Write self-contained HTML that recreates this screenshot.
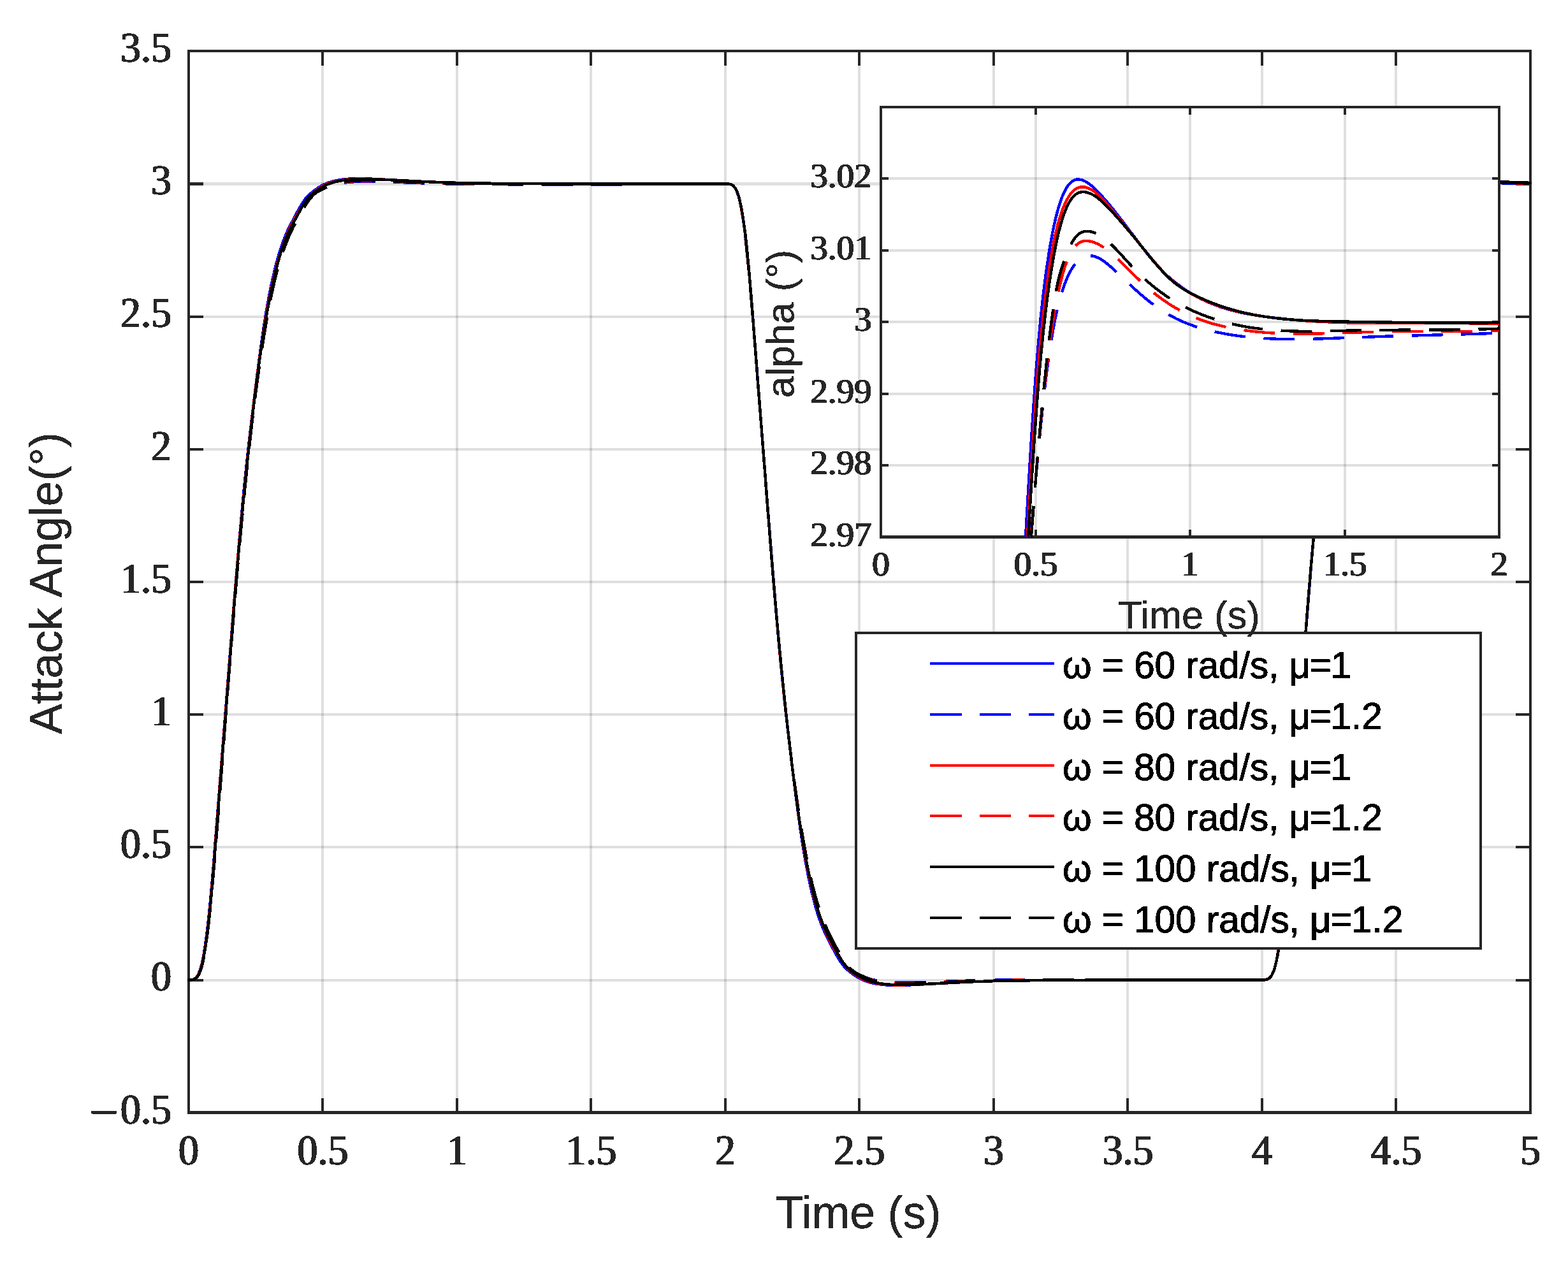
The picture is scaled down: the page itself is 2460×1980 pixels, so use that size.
<!DOCTYPE html>
<html lang="en"><head><meta charset="utf-8">
<style>
html,body{margin:0;padding:0;background:#fff;}
body{width:2460px;height:1980px;overflow:hidden;}
svg{display:block;}
.tk{font-family:"Liberation Serif","DejaVu Serif",serif;fill:#262626;}
.lb{font-family:"Liberation Sans","DejaVu Sans",sans-serif;fill:#262626;stroke:#262626;stroke-width:0.4;}
.lg{font-family:"Liberation Sans","DejaVu Sans",sans-serif;fill:#000;}
.a{fill:#262626;shape-rendering:crispEdges;}
.g{fill:#262626;fill-opacity:0.15;shape-rendering:crispEdges;}
.cv{fill:none;stroke-width:4.4;stroke-linejoin:round;stroke-linecap:butt;shape-rendering:crispEdges;}
</style></head><body>
<svg width="2460" height="1980" viewBox="0 0 2460 1980">
<rect x="0" y="0" width="2460" height="1980" fill="#ffffff"/>
<defs>
<filter id="fb" filterUnits="userSpaceOnUse" x="0" y="0" width="2460" height="1980" color-interpolation-filters="sRGB"><feOffset in="SourceGraphic" dx="-1" dy="0" result="a"/><feOffset in="SourceGraphic" dx="1" dy="0" result="b"/><feMerge><feMergeNode in="a"/><feMergeNode in="SourceGraphic"/><feMergeNode in="b"/></feMerge><feComponentTransfer><feFuncA type="discrete" tableValues="0 1"/></feComponentTransfer></filter>
<filter id="ft" filterUnits="userSpaceOnUse" x="0" y="0" width="2460" height="1980" color-interpolation-filters="sRGB"><feComponentTransfer><feFuncA type="discrete" tableValues="0 1"/></feComponentTransfer></filter>
<clipPath id="cm"><rect x="294" y="80.3" width="2109" height="1665.4"/></clipPath>
<clipPath id="ci"><rect x="1382" y="168" width="970" height="675.5"/></clipPath>
</defs>
<g id="main-grid">
<rect class="g" x="504" y="80.3" width="4" height="1665.4"/>
<rect class="g" x="715" y="80.3" width="4" height="1665.4"/>
<rect class="g" x="925" y="80.3" width="4" height="1665.4"/>
<rect class="g" x="1136" y="80.3" width="4" height="1665.4"/>
<rect class="g" x="1346" y="80.3" width="4" height="1665.4"/>
<rect class="g" x="1557" y="80.3" width="4" height="1665.4"/>
<rect class="g" x="1767" y="80.3" width="4" height="1665.4"/>
<rect class="g" x="1978" y="80.3" width="4" height="1665.4"/>
<rect class="g" x="2188" y="80.3" width="4" height="1665.4"/>
<rect class="g" x="296" y="1536" width="2105" height="4"/>
<rect class="g" x="296" y="1327" width="2105" height="4"/>
<rect class="g" x="296" y="1119" width="2105" height="4"/>
<rect class="g" x="296" y="911" width="2105" height="4"/>
<rect class="g" x="296" y="703" width="2105" height="4"/>
<rect class="g" x="296" y="495" width="2105" height="4"/>
<rect class="g" x="296" y="286" width="2105" height="5"/>
</g>
<g id="main-box">
<rect class="a" x="504" y="1722.7" width="4" height="23"/>
<rect class="a" x="504" y="80.3" width="4" height="23"/>
<rect class="a" x="715" y="1722.7" width="4" height="23"/>
<rect class="a" x="715" y="80.3" width="4" height="23"/>
<rect class="a" x="925" y="1722.7" width="4" height="23"/>
<rect class="a" x="925" y="80.3" width="4" height="23"/>
<rect class="a" x="1136" y="1722.7" width="4" height="23"/>
<rect class="a" x="1136" y="80.3" width="4" height="23"/>
<rect class="a" x="1346" y="1722.7" width="4" height="23"/>
<rect class="a" x="1346" y="80.3" width="4" height="23"/>
<rect class="a" x="1557" y="1722.7" width="4" height="23"/>
<rect class="a" x="1557" y="80.3" width="4" height="23"/>
<rect class="a" x="1767" y="1722.7" width="4" height="23"/>
<rect class="a" x="1767" y="80.3" width="4" height="23"/>
<rect class="a" x="1978" y="1722.7" width="4" height="23"/>
<rect class="a" x="1978" y="80.3" width="4" height="23"/>
<rect class="a" x="2188" y="1722.7" width="4" height="23"/>
<rect class="a" x="2188" y="80.3" width="4" height="23"/>
<rect class="a" x="296" y="1536" width="23" height="4"/>
<rect class="a" x="2378" y="1536" width="23" height="4"/>
<rect class="a" x="296" y="1327" width="23" height="4"/>
<rect class="a" x="2378" y="1327" width="23" height="4"/>
<rect class="a" x="296" y="1119" width="23" height="4"/>
<rect class="a" x="2378" y="1119" width="23" height="4"/>
<rect class="a" x="296" y="911" width="23" height="4"/>
<rect class="a" x="2378" y="911" width="23" height="4"/>
<rect class="a" x="296" y="703" width="23" height="4"/>
<rect class="a" x="2378" y="703" width="23" height="4"/>
<rect class="a" x="296" y="495" width="23" height="4"/>
<rect class="a" x="2378" y="495" width="23" height="4"/>
<rect class="a" x="296" y="286" width="23" height="5"/>
<rect class="a" x="2378" y="286" width="23" height="5"/>
<rect class="a" x="294" y="78" width="4" height="1670"/>
<rect class="a" x="2399" y="78" width="4" height="1670"/>
<rect class="a" x="294" y="78" width="2109" height="4"/>
<rect class="a" x="294" y="1743" width="2109" height="5"/>
</g>
<g id="main-curves" clip-path="url(#cm)">
<path class="cv" stroke="#0000ff" style="stroke-linecap:square" d="M296.0 1537.5L299.8 1537.4L302.3 1537.0L304.4 1536.2L306.5 1534.8L308.6 1532.5L310.3 1529.9L312.0 1526.5L313.7 1522.3L315.4 1516.9L317.1 1510.3L318.3 1504.4L320.0 1495.3L322.9 1476.2L325.9 1452.8L328.0 1433.7L330.1 1412.5L334.7 1359.9L366.3 957.1L374.3 860.9L381.0 786.1L384.8 747.3L388.2 715.3L391.6 685.6L396.2 647.0L402.9 592.7L408.0 553.8L412.6 520.8L416.8 493.7L420.2 474.5L424.0 454.8L427.8 436.9L432.0 419.1L435.8 404.9L440.0 391.0L444.2 378.9L448.4 368.5L451.3 361.8L454.7 354.8L465.2 334.6L471.6 323.3L474.5 318.5L477.0 314.8L479.1 312.0L481.7 309.0L484.2 306.4L487.1 303.7L490.5 301.0L495.1 297.5L499.3 294.6L503.1 292.2L508.6 289.3L514.5 286.8L520.8 284.8L528.0 283.1L536.4 281.7L544.8 280.8L553.7 280.3L563.8 280.2L576.0 280.4L590.7 281.0L656.4 284.5L687.5 285.9L717.0 286.9L751.9 287.6L807.5 288.1L886.2 288.4L1141.8 288.6L1145.2 288.9L1146.8 289.3L1148.1 289.9L1149.4 290.6L1150.6 291.6L1152.7 294.0L1154.0 295.9L1155.3 298.3L1156.5 301.2L1157.8 304.6L1159.9 311.7L1162.0 320.9L1164.5 334.8L1166.6 348.8L1168.7 364.9L1171.3 386.9L1175.5 430.0L1180.1 484.8L1203.3 782.0L1213.4 908.2L1220.5 992.1L1226.8 1060.1L1231.0 1101.4L1235.7 1142.8L1244.5 1215.9L1250.8 1265.9L1255.5 1300.0L1259.7 1328.0L1263.9 1352.6L1268.1 1374.5L1273.1 1397.8L1278.2 1417.8L1280.7 1426.7L1283.2 1434.9L1285.8 1442.4L1288.7 1450.3L1292.5 1459.5L1296.3 1467.7L1300.5 1476.2L1307.7 1489.9L1312.3 1498.4L1316.1 1504.9L1319.5 1510.1L1322.8 1514.6L1326.2 1518.4L1329.6 1521.6L1333.8 1525.1L1339.2 1529.1L1344.3 1532.5L1348.5 1535.0L1353.1 1537.3L1357.8 1539.2L1362.8 1540.9L1367.9 1542.2L1373.3 1543.3L1379.7 1544.3L1386.0 1545.1L1392.3 1545.5L1399.4 1545.8L1407.0 1545.9L1419.2 1545.7L1434.0 1545.1L1499.6 1541.6L1530.8 1540.1L1559.8 1539.2L1594.8 1538.5L1650.4 1538.0L1729.5 1537.6L1982.5 1537.5L1985.9 1537.2L1987.6 1536.8L1988.8 1536.4L1990.1 1535.7L1991.4 1534.8L1993.5 1532.6L1995.2 1530.1L1996.4 1527.7L1998.1 1523.8L1999.4 1520.2L2000.6 1516.0L2001.9 1510.9L2004.4 1498.6L2006.9 1483.1L2009.5 1464.5L2012.0 1443.0L2014.5 1418.5L2017.9 1381.7L2021.7 1336.0L2046.1 1022.6L2057.0 887.6L2062.1 829.3L2067.1 774.6L2071.4 732.6L2076.0 690.5L2084.0 623.8L2091.1 566.6L2096.6 526.1L2101.2 495.5L2103.8 480.5L2106.7 464.3L2109.7 449.4L2112.6 435.7L2115.6 423.0L2118.5 411.4L2121.5 400.8L2124.8 389.9L2127.8 381.3L2131.1 372.6L2134.5 364.7L2138.3 356.6L2143.8 345.8L2152.6 329.2L2157.2 321.2L2161.5 314.8L2164.8 310.4L2168.2 306.8L2172.0 303.3L2176.2 300.0L2182.5 295.5L2188.0 292.0L2193.0 289.3L2198.5 287.0L2203.1 285.4L2208.2 284.0L2213.7 282.9L2220.0 281.8L2226.3 281.1L2232.6 280.6L2239.3 280.3L2246.5 280.1L2257.4 280.3L2271.8 280.8L2354.7 285.2L2377.8 286.1L2401.0 286.9"/>
<path class="cv" stroke="#0000ff" stroke-dasharray="49 28.5" stroke-dashoffset="0" d="M296.0 1537.5L299.8 1537.5L302.7 1537.1L304.8 1536.3L306.9 1535.1L309.1 1533.1L310.7 1530.7L312.4 1527.6L314.1 1523.6L315.8 1518.7L317.1 1514.1L318.3 1508.7L320.0 1500.1L322.9 1481.1L325.9 1457.9L328.4 1435.1L331.4 1405.5L334.3 1373.3L337.7 1334.0L344.8 1245.0L359.6 1052.9L367.1 956.8L374.7 865.8L381.5 791.2L385.3 752.5L388.6 720.4L392.0 690.5L395.8 659.1L400.8 619.5L405.9 582.1L410.5 550.0L415.1 520.1L419.4 495.1L423.1 474.6L426.9 456.1L430.7 439.6L434.9 423.2L439.1 408.6L444.2 392.9L449.2 378.6L454.7 364.9L457.7 358.4L460.2 353.4L464.8 345.3L474.9 329.2L482.5 316.1L485.5 311.6L488.8 307.6L492.2 304.5L496.4 301.6L499.3 300.0L503.6 298.0L514.1 293.4L521.2 290.7L527.5 289.0L537.2 287.2L547.3 285.9L558.3 285.0L570.9 284.7L584.0 284.7L599.5 285.0L656.0 287.2L686.7 288.1L722.5 288.7L765.4 289.2L857.2 289.5L1141.4 289.1L1145.2 289.4L1146.8 289.9L1148.1 290.4L1149.4 291.1L1150.6 292.1L1152.7 294.5L1154.4 297.2L1155.7 299.7L1156.9 302.8L1158.6 307.7L1159.9 312.1L1161.2 317.5L1163.3 328.4L1165.8 344.8L1168.3 364.3L1170.8 386.7L1173.8 415.7L1178.4 466.7L1184.3 537.8L1204.9 805.1L1214.2 920.2L1218.8 974.3L1223.0 1021.0L1227.3 1064.8L1231.5 1105.3L1235.7 1142.4L1240.3 1180.1L1245.8 1221.9L1251.2 1261.1L1256.3 1294.6L1260.9 1322.7L1265.6 1348.2L1269.8 1368.9L1272.3 1380.2L1275.2 1392.3L1278.2 1403.5L1281.6 1415.3L1284.9 1426.1L1288.7 1437.5L1292.5 1448.0L1296.3 1457.6L1300.9 1468.0L1303.5 1473.0L1306.0 1477.6L1317.8 1496.6L1326.2 1511.1L1328.7 1514.8L1331.2 1517.9L1333.8 1520.5L1336.3 1522.6L1339.2 1524.6L1342.2 1526.3L1348.9 1529.5L1356.5 1532.7L1362.8 1535.2L1367.4 1536.6L1373.3 1537.9L1379.2 1539.0L1385.5 1540.0L1391.9 1540.7L1398.6 1541.2L1405.8 1541.5L1422.6 1541.7L1446.2 1541.2L1497.1 1539.2L1526.2 1538.4L1561.1 1537.7L1607.4 1537.1L1700.5 1536.8L1982.5 1537.0L1985.9 1536.8L1987.6 1536.4L1988.8 1536.0L1990.1 1535.3L1991.4 1534.4L1993.5 1532.2L1995.2 1529.7L1996.4 1527.3L1997.7 1524.5L1999.4 1519.8L2000.6 1515.6L2001.9 1510.5L2004.0 1500.1L2006.5 1484.3L2009.0 1465.3L2011.6 1443.4L2014.5 1414.8L2019.2 1364.3L2025.0 1293.6L2046.9 1010.3L2057.0 886.0L2062.1 828.2L2067.1 774.2L2071.8 728.7L2076.4 687.3L2082.7 636.2L2089.9 582.7L2096.2 539.6L2102.5 501.0L2105.5 484.6L2108.4 469.3L2110.9 457.2L2113.9 444.1L2116.8 432.1L2120.2 419.6L2123.6 408.0L2126.9 397.4L2131.1 385.1L2135.3 373.7L2139.1 364.5L2142.9 356.4L2145.5 351.5L2148.4 346.4L2158.5 330.2L2166.1 317.1L2169.0 312.4L2171.6 309.1L2174.1 306.4L2176.6 304.1L2179.6 302.0L2182.5 300.3L2186.3 298.4L2193.0 295.3L2199.3 292.7L2204.4 290.8L2208.6 289.5L2214.9 288.1L2221.7 286.8L2228.4 285.9L2235.5 285.2L2243.1 284.7L2251.1 284.4L2263.8 284.3L2280.2 284.6L2351.3 287.2L2401.0 288.4"/>
<path class="cv" stroke="#ff0000" style="stroke-linecap:square" d="M296.0 1537.5L299.8 1537.4L302.3 1537.1L304.4 1536.3L306.5 1535.0L308.6 1532.8L310.3 1530.3L312.0 1527.1L313.7 1523.0L315.4 1517.8L317.1 1511.3L320.0 1497.2L321.7 1487.4L323.4 1476.3L326.3 1453.4L330.1 1417.4L334.3 1369.2L344.8 1232.7L354.5 1111.3L367.6 942.8L373.0 877.0L378.9 812.1L383.6 764.8L388.6 716.2L393.7 670.4L398.3 630.8L402.9 593.7L407.6 559.3L412.2 527.7L416.4 501.5L420.2 480.1L424.4 458.5L428.6 439.2L432.8 422.0L437.0 406.6L441.7 391.5L446.3 378.2L451.3 365.5L454.3 358.9L457.2 352.7L463.6 340.8L467.3 334.4L471.6 327.7L475.8 321.4L480.0 315.5L485.9 308.1L488.8 304.9L491.8 302.1L496.8 298.1L505.7 292.3L511.1 289.4L516.6 287.2L523.3 285.2L531.3 283.4L539.3 282.1L548.2 281.2L557.4 280.7L567.5 280.6L581.4 280.9L600.4 281.6L662.7 284.8L688.0 285.9L721.2 286.9L758.3 287.6L808.8 288.1L887.9 288.4L1141.4 288.6L1145.2 288.9L1146.8 289.3L1148.1 289.9L1149.4 290.6L1150.6 291.6L1152.7 294.0L1154.0 295.9L1155.3 298.3L1156.5 301.2L1157.8 304.6L1159.9 311.7L1162.4 322.8L1164.9 336.6L1167.0 350.5L1169.6 369.9L1171.7 388.6L1175.0 423.4L1178.8 468.4L1188.5 594.4L1198.2 716.0L1208.3 847.0L1212.9 905.1L1218.8 973.8L1225.1 1040.9L1230.6 1094.7L1236.5 1149.1L1242.0 1196.3L1247.5 1240.0L1252.9 1279.9L1258.0 1313.2L1263.0 1342.9L1268.1 1369.0L1273.6 1393.6L1276.5 1405.5L1279.5 1416.4L1282.4 1426.4L1285.8 1437.0L1289.1 1446.6L1292.5 1455.4L1295.9 1463.4L1299.7 1471.7L1303.5 1479.1L1307.2 1486.0L1311.9 1493.7L1317.3 1502.2L1322.0 1508.9L1326.6 1514.9L1330.0 1518.9L1332.9 1522.0L1335.9 1524.7L1338.8 1527.1L1345.6 1531.7L1350.2 1534.5L1354.4 1536.7L1359.0 1538.6L1364.1 1540.2L1369.6 1541.6L1375.9 1542.9L1382.2 1543.9L1388.9 1544.6L1395.7 1545.1L1402.8 1545.4L1410.8 1545.5L1424.7 1545.2L1443.6 1544.5L1506.0 1541.2L1531.2 1540.1L1564.1 1539.1L1601.1 1538.4L1651.6 1537.9L1730.8 1537.6L1982.5 1537.5L1985.9 1537.2L1987.6 1536.8L1988.8 1536.4L1990.1 1535.7L1991.4 1534.8L1993.5 1532.6L1995.2 1530.1L1996.4 1527.8L1998.1 1523.8L1999.4 1520.2L2001.9 1510.9L2004.4 1499.0L2006.9 1484.1L2009.5 1466.2L2012.0 1445.2L2014.1 1425.1L2017.0 1393.1L2020.4 1352.4L2029.3 1237.0L2039.4 1110.0L2050.3 968.3L2057.0 885.8L2062.5 824.7L2068.0 768.2L2074.3 707.6L2080.6 651.1L2086.5 602.4L2092.0 561.0L2097.5 523.5L2102.9 490.2L2108.4 461.1L2113.9 436.0L2116.8 423.9L2119.8 412.7L2122.7 402.4L2126.1 391.6L2129.9 380.6L2133.7 370.6L2137.5 361.7L2141.7 352.7L2145.9 344.5L2150.5 336.4L2156.0 327.7L2161.9 318.9L2166.1 313.2L2169.9 308.6L2173.7 304.5L2177.4 301.0L2181.7 297.8L2189.7 292.5L2194.3 290.0L2199.3 287.8L2204.0 286.2L2209.4 284.7L2215.3 283.5L2221.7 282.4L2228.0 281.6L2234.7 281.1L2241.9 280.7L2249.4 280.6L2262.1 280.7L2279.8 281.3L2356.8 285.3L2377.8 286.1L2401.0 286.8"/>
<path class="cv" stroke="#ff0000" stroke-dasharray="49 28.5" stroke-dashoffset="0" d="M296.0 1537.5L299.8 1537.5L302.7 1537.1L304.8 1536.3L306.9 1535.1L309.1 1533.1L310.7 1530.7L312.4 1527.6L314.1 1523.6L315.8 1518.7L317.1 1514.1L318.3 1508.7L320.0 1500.1L322.9 1481.1L325.9 1457.9L328.4 1435.0L331.4 1405.4L334.3 1373.1L337.7 1333.9L344.8 1244.9L359.6 1053.0L367.1 957.0L374.7 866.0L381.5 791.4L385.3 752.6L388.6 720.4L392.0 690.3L395.8 658.7L400.4 622.4L405.0 588.2L409.7 556.2L414.3 526.4L418.5 501.4L422.3 480.6L426.1 461.5L429.9 444.2L433.7 428.6L437.9 412.9L442.1 399.0L446.3 386.7L449.2 378.9L452.2 371.7L455.1 365.1L458.5 358.2L463.6 348.9L474.5 330.2L482.1 316.3L485.0 311.7L488.0 308.1L491.3 305.0L495.1 302.5L504.8 297.4L513.7 293.3L521.2 290.4L529.2 288.0L537.7 286.2L546.9 285.0L557.4 284.1L569.7 283.8L581.9 283.8L597.0 284.2L664.0 286.7L690.5 287.6L726.7 288.3L767.1 288.8L851.3 289.2L1141.4 289.0L1145.2 289.3L1146.8 289.7L1148.1 290.3L1149.4 291.0L1150.6 292.0L1152.7 294.4L1154.4 297.0L1155.7 299.6L1158.2 306.2L1159.5 310.4L1160.7 315.5L1162.8 326.0L1165.4 341.8L1167.9 360.9L1170.4 382.8L1173.4 411.4L1178.0 461.9L1183.9 532.6L1205.4 810.2L1214.6 924.8L1219.3 978.7L1223.5 1025.2L1227.7 1068.8L1231.9 1109.1L1236.1 1146.1L1240.7 1183.6L1246.2 1225.0L1251.2 1260.6L1256.3 1293.5L1260.9 1321.3L1265.6 1346.6L1270.2 1369.4L1275.7 1393.1L1278.6 1404.5L1281.6 1415.1L1284.5 1424.8L1287.5 1433.8L1290.4 1442.1L1293.8 1450.7L1299.2 1463.1L1304.7 1473.8L1317.3 1495.4L1325.8 1510.8L1327.9 1514.1L1330.4 1517.3L1333.3 1520.3L1336.3 1522.5L1339.7 1524.6L1345.6 1527.7L1352.3 1531.0L1358.6 1533.8L1364.5 1536.0L1370.0 1537.6L1375.0 1538.9L1380.5 1540.0L1386.0 1540.9L1391.9 1541.5L1398.2 1542.0L1405.3 1542.4L1421.3 1542.6L1445.3 1542.0L1503.0 1539.7L1529.5 1538.8L1567.0 1538.0L1609.5 1537.4L1694.1 1537.1L1982.5 1537.1L1985.9 1536.9L1987.6 1536.5L1988.8 1536.1L1990.1 1535.4L1991.4 1534.5L1993.5 1532.3L1995.2 1529.8L1996.4 1527.4L1997.7 1524.6L1999.4 1519.9L2000.6 1515.7L2001.9 1510.6L2004.0 1500.2L2006.5 1484.3L2009.0 1465.3L2011.6 1443.4L2014.5 1414.7L2019.2 1364.2L2025.0 1293.5L2046.9 1010.5L2052.4 942.0L2057.5 881.4L2062.5 823.8L2067.6 770.1L2072.2 724.8L2076.8 683.6L2082.7 635.9L2089.5 585.9L2095.8 543.2L2102.1 504.8L2105.5 486.2L2108.4 470.9L2111.4 456.7L2114.3 443.5L2117.2 431.3L2120.6 418.4L2123.6 408.1L2126.9 397.3L2130.3 387.5L2134.1 377.5L2137.9 368.5L2141.7 360.4L2147.1 350.1L2158.5 330.6L2166.5 316.0L2169.0 312.0L2171.1 309.2L2173.2 306.9L2175.8 304.7L2178.3 303.0L2182.5 300.6L2189.7 296.9L2195.1 294.3L2200.6 292.0L2206.1 290.0L2211.6 288.3L2217.0 287.0L2222.9 285.8L2229.2 284.9L2236.0 284.3L2243.1 283.8L2251.5 283.5L2263.3 283.5L2277.6 283.8L2354.3 286.7L2401.0 287.9"/>
<path class="cv" stroke="#000000" style="stroke-linecap:square" d="M296.0 1537.5L299.8 1537.5L302.7 1537.0L304.8 1536.2L306.9 1534.8L309.1 1532.7L310.7 1530.2L312.4 1526.9L314.1 1522.7L315.4 1518.9L317.1 1512.7L318.7 1505.4L320.4 1496.7L322.1 1486.8L323.8 1475.6L326.7 1452.6L330.5 1416.5L334.7 1368.2L345.3 1231.7L354.9 1110.0L368.0 941.8L373.5 876.2L378.9 815.8L383.6 768.2L388.2 723.3L393.3 677.0L397.9 637.1L402.5 599.7L407.1 565.0L411.8 533.2L416.0 506.9L419.8 485.5L424.0 463.8L428.2 444.0L432.4 426.0L436.6 409.8L440.4 396.8L444.6 384.2L448.8 373.4L453.9 362.1L460.2 349.8L472.4 327.3L476.2 320.9L479.6 315.8L481.7 312.9L484.2 309.9L486.7 307.2L489.7 304.5L495.6 299.9L504.4 294.1L510.3 290.9L516.6 288.2L523.3 286.0L531.3 284.1L539.8 282.7L548.6 281.7L558.3 281.1L568.8 280.9L583.5 281.1L602.5 281.8L665.6 285.0L691.3 286.1L724.2 287.0L759.5 287.6L809.2 288.1L889.6 288.4L1141.4 288.5L1145.2 288.9L1146.8 289.3L1148.1 289.8L1149.4 290.6L1150.6 291.6L1152.7 293.9L1154.0 295.9L1155.3 298.2L1156.5 301.1L1157.8 304.5L1159.9 311.7L1162.4 322.7L1164.9 336.6L1167.0 350.4L1169.2 366.4L1171.3 384.6L1175.0 423.3L1178.8 468.3L1188.5 594.3L1197.8 710.7L1208.3 847.0L1212.9 905.0L1219.3 978.3L1225.6 1045.2L1231.0 1098.7L1236.9 1152.8L1242.4 1199.4L1247.9 1242.5L1252.9 1278.7L1258.0 1311.5L1263.0 1340.6L1268.5 1368.3L1274.0 1393.0L1279.5 1414.7L1282.0 1423.6L1284.9 1433.2L1287.5 1440.6L1290.4 1448.5L1293.3 1455.6L1296.7 1463.0L1300.1 1469.9L1304.7 1478.6L1313.1 1494.2L1317.8 1502.3L1322.0 1509.0L1325.8 1514.2L1329.1 1518.0L1332.5 1521.2L1336.3 1524.3L1340.9 1527.6L1346.4 1531.1L1351.4 1534.0L1356.1 1536.3L1361.1 1538.2L1366.2 1539.9L1372.1 1541.4L1378.4 1542.6L1384.7 1543.6L1391.4 1544.3L1398.2 1544.8L1405.3 1545.1L1413.3 1545.1L1428.1 1544.9L1446.6 1544.2L1508.5 1541.0L1533.7 1540.0L1567.0 1539.0L1602.4 1538.4L1652.0 1537.9L1732.0 1537.6L1982.5 1537.5L1985.9 1537.2L1987.6 1536.8L1988.8 1536.4L1990.1 1535.7L1991.4 1534.8L1993.5 1532.6L1995.2 1530.1L1996.4 1527.8L1998.1 1523.8L1999.4 1520.2L2001.9 1510.9L2004.4 1499.0L2006.9 1484.1L2009.5 1466.2L2012.0 1445.2L2014.1 1425.1L2017.0 1393.2L2020.4 1352.5L2029.7 1231.7L2039.4 1109.9L2050.3 968.3L2057.0 885.9L2062.5 824.7L2068.0 768.1L2074.3 707.5L2080.6 651.3L2086.1 606.3L2091.6 565.0L2097.0 527.7L2102.1 497.1L2105.0 480.9L2108.0 465.9L2111.4 449.8L2114.3 436.6L2117.7 422.6L2120.6 411.3L2123.6 400.9L2126.5 391.5L2129.5 383.0L2132.4 375.4L2135.8 367.5L2139.6 359.5L2144.6 349.7L2156.0 328.8L2160.6 320.9L2164.4 315.2L2167.3 311.3L2170.7 307.6L2174.1 304.4L2178.3 301.1L2184.6 296.7L2190.5 293.1L2195.6 290.5L2200.6 288.4L2205.7 286.6L2210.7 285.2L2216.6 283.9L2222.9 282.8L2229.2 282.0L2236.0 281.4L2243.1 281.0L2250.7 280.9L2264.2 281.0L2282.7 281.6L2358.5 285.4L2401.0 286.8"/>
<path class="cv" stroke="#000000" stroke-dasharray="49 28.5" stroke-dashoffset="0" d="M296.0 1537.5L299.8 1537.5L302.7 1537.1L305.3 1536.2L307.4 1534.9L309.5 1532.8L311.2 1530.3L312.8 1527.1L314.5 1523.0L316.2 1517.8L317.9 1511.4L319.6 1503.7L320.8 1497.1L323.8 1478.4L326.7 1455.1L328.8 1435.8L331.4 1410.3L336.8 1348.0L342.7 1274.1L358.3 1070.0L365.5 978.6L372.6 892.3L379.8 812.9L384.0 769.4L388.2 728.3L392.4 689.6L397.0 649.7L401.2 615.9L405.5 584.4L409.7 555.2L414.3 525.6L418.1 503.4L422.3 480.7L426.1 462.0L430.3 443.2L434.5 426.4L438.7 411.4L442.9 398.0L447.6 385.0L453.5 370.5L459.8 356.9L468.2 340.9L476.6 326.3L482.9 316.6L485.9 312.7L488.4 309.6L491.3 306.4L493.9 304.1L496.4 302.2L499.3 300.3L507.8 295.9L515.8 292.1L525.0 288.7L530.9 286.9L538.1 285.6L550.3 284.1L559.5 283.5L569.7 283.2L583.1 283.3L598.7 283.7L655.5 286.1L691.7 287.2L727.1 288.0L765.4 288.5L809.2 288.8L866.9 289.0L1141.4 288.9L1145.2 289.2L1146.8 289.6L1148.1 290.2L1149.4 290.9L1150.6 291.9L1152.7 294.3L1154.4 297.0L1155.7 299.5L1156.9 302.5L1158.2 306.1L1160.7 315.3L1163.3 327.4L1165.8 342.8L1167.9 358.4L1170.4 380.3L1172.9 405.0L1177.6 456.2L1183.5 527.7L1189.8 608.2L1205.4 811.4L1213.8 915.5L1218.4 968.8L1223.0 1019.1L1227.7 1066.3L1232.7 1114.5L1236.9 1152.0L1241.6 1190.5L1246.2 1226.3L1250.8 1259.3L1255.5 1289.7L1260.1 1317.4L1264.7 1342.6L1269.4 1365.3L1274.8 1389.0L1277.8 1400.5L1280.7 1411.0L1283.7 1420.7L1287.0 1431.0L1290.4 1440.3L1293.8 1448.9L1298.0 1458.7L1302.2 1467.6L1307.2 1477.5L1313.1 1488.4L1318.2 1497.3L1322.8 1504.8L1327.0 1510.9L1331.2 1516.3L1334.2 1519.5L1337.1 1522.2L1340.1 1524.4L1343.4 1526.5L1350.6 1530.3L1356.9 1533.2L1364.5 1536.3L1370.8 1538.4L1375.0 1539.5L1380.1 1540.5L1386.4 1541.4L1394.0 1542.2L1406.2 1542.9L1420.9 1543.0L1444.9 1542.5L1496.3 1540.3L1530.8 1539.1L1568.3 1538.2L1607.8 1537.7L1652.0 1537.3L1709.7 1537.2L1982.5 1537.2L1985.9 1537.0L1987.6 1536.6L1988.8 1536.1L1990.1 1535.5L1991.4 1534.6L1993.5 1532.4L1995.2 1529.9L1996.4 1527.5L1997.7 1524.6L1998.9 1521.2L2001.5 1512.5L2004.0 1500.9L2006.5 1486.1L2008.6 1471.0L2011.2 1449.7L2013.7 1425.4L2018.3 1374.8L2024.2 1303.6L2030.5 1223.3L2047.4 1003.9L2052.4 940.9L2056.6 890.8L2062.1 829.5L2067.6 772.4L2073.0 719.4L2078.9 666.9L2084.4 622.2L2090.3 578.5L2096.2 539.1L2102.1 503.9L2108.0 472.8L2110.9 458.8L2113.9 445.8L2116.8 433.7L2119.8 422.5L2122.7 412.2L2126.1 401.4L2129.9 390.3L2133.7 380.3L2137.9 370.2L2142.5 360.2L2148.0 349.3L2155.1 336.1L2161.0 326.0L2166.1 318.1L2169.4 313.4L2172.8 309.2L2176.2 305.7L2179.1 303.1L2182.9 300.6L2188.8 297.3L2194.7 294.4L2200.6 291.8L2206.5 289.5L2211.1 287.9L2215.3 286.7L2220.0 285.8L2226.7 284.8L2235.5 283.8L2242.7 283.3L2250.3 283.1L2264.2 283.0L2280.2 283.4L2350.1 286.2L2401.0 287.6"/>
</g>
<g id="main-ticklabels" class="tk" font-size="68" filter="url(#fb)">
<text transform="translate(296.0 1826.8) scale(0.94 1)" text-anchor="middle">0</text>
<text transform="translate(506.5 1826.8) scale(0.94 1)" text-anchor="middle">0.5</text>
<text transform="translate(717.0 1826.8) scale(0.94 1)" text-anchor="middle">1</text>
<text transform="translate(927.5 1826.8) scale(0.94 1)" text-anchor="middle">1.5</text>
<text transform="translate(1138.0 1826.8) scale(0.94 1)" text-anchor="middle">2</text>
<text transform="translate(1348.5 1826.8) scale(0.94 1)" text-anchor="middle">2.5</text>
<text transform="translate(1559.0 1826.8) scale(0.94 1)" text-anchor="middle">3</text>
<text transform="translate(1769.5 1826.8) scale(0.94 1)" text-anchor="middle">3.5</text>
<text transform="translate(1980.0 1826.8) scale(0.94 1)" text-anchor="middle">4</text>
<text transform="translate(2190.5 1826.8) scale(0.94 1)" text-anchor="middle">4.5</text>
<text transform="translate(2401.0 1826.8) scale(0.94 1)" text-anchor="middle">5</text>
<text transform="translate(269.0 1762.5) scale(0.94 1)" text-anchor="end"><tspan font-size="87" dy="11.5">−</tspan><tspan dy="-11.5" dx="2.9">0.5</tspan></text>
<text transform="translate(269.0 1554.3) scale(0.94 1)" text-anchor="end">0</text>
<text transform="translate(269.0 1346.1) scale(0.94 1)" text-anchor="end">0.5</text>
<text transform="translate(269.0 1138.0) scale(0.94 1)" text-anchor="end">1</text>
<text transform="translate(269.0 929.8) scale(0.94 1)" text-anchor="end">1.5</text>
<text transform="translate(269.0 721.6) scale(0.94 1)" text-anchor="end">2</text>
<text transform="translate(269.0 513.4) scale(0.94 1)" text-anchor="end">2.5</text>
<text transform="translate(269.0 305.3) scale(0.94 1)" text-anchor="end">3</text>
<text transform="translate(269.0 97.1) scale(0.94 1)" text-anchor="end">3.5</text>
</g>
<g filter="url(#ft)">
<text class="lb" font-size="71.5" x="1346.5" y="1926.8" text-anchor="middle">Time (s)</text>
<text class="lb" font-size="71.5" text-anchor="middle" transform="translate(96.9 915.2) rotate(-90)">Attack Angle(°)</text>
</g>
<g id="legend">
<rect x="1341" y="991" width="984" height="499" fill="#ffffff"/>
<rect class="a" x="1341" y="991" width="984" height="4"/>
<rect class="a" x="1341" y="1486" width="984" height="4"/>
<rect class="a" x="1341" y="991" width="4" height="499"/>
<rect class="a" x="2321" y="991" width="4" height="499"/>
<rect x="1459" y="1039" width="195" height="4" fill="#0000ff" shape-rendering="crispEdges"/>
<text class="lg" font-size="58.4" x="1667" y="1064.0" stroke="#000" stroke-width="1.1" filter="url(#ft)">ω = 60 rad/s, <tspan letter-spacing="-1.4">μ=</tspan>1</text>
<rect x="1459" y="1119" width="50" height="4" fill="#0000ff" shape-rendering="crispEdges"/>
<rect x="1537" y="1119" width="49" height="4" fill="#0000ff" shape-rendering="crispEdges"/>
<rect x="1614" y="1119" width="40" height="4" fill="#0000ff" shape-rendering="crispEdges"/>
<text class="lg" font-size="58.4" x="1667" y="1144.0" stroke="#000" stroke-width="1.1" filter="url(#ft)">ω = 60 rad/s, <tspan letter-spacing="-1.4">μ=</tspan>1.2</text>
<rect x="1459" y="1199" width="195" height="4" fill="#ff0000" shape-rendering="crispEdges"/>
<text class="lg" font-size="58.4" x="1667" y="1224.0" stroke="#000" stroke-width="1.1" filter="url(#ft)">ω = 80 rad/s, <tspan letter-spacing="-1.4">μ=</tspan>1</text>
<rect x="1459" y="1278" width="50" height="4" fill="#ff0000" shape-rendering="crispEdges"/>
<rect x="1537" y="1278" width="49" height="4" fill="#ff0000" shape-rendering="crispEdges"/>
<rect x="1614" y="1278" width="40" height="4" fill="#ff0000" shape-rendering="crispEdges"/>
<text class="lg" font-size="58.4" x="1667" y="1303.0" stroke="#000" stroke-width="1.1" filter="url(#ft)">ω = 80 rad/s, <tspan letter-spacing="-1.4">μ=</tspan>1.2</text>
<rect x="1459" y="1358" width="195" height="4" fill="#000000" shape-rendering="crispEdges"/>
<text class="lg" font-size="58.4" x="1667" y="1383.0" stroke="#000" stroke-width="1.1" filter="url(#ft)">ω = 100 rad/s, <tspan letter-spacing="-1.4">μ=</tspan>1</text>
<rect x="1459" y="1438" width="50" height="4" fill="#000000" shape-rendering="crispEdges"/>
<rect x="1537" y="1438" width="49" height="4" fill="#000000" shape-rendering="crispEdges"/>
<rect x="1614" y="1438" width="40" height="4" fill="#000000" shape-rendering="crispEdges"/>
<text class="lg" font-size="58.4" x="1667" y="1463.0" stroke="#000" stroke-width="1.1" filter="url(#ft)">ω = 100 rad/s, <tspan letter-spacing="-1.4">μ=</tspan>1.2</text>
</g>
<g id="inset">
<rect x="1382" y="168" width="970" height="674.5" fill="#ffffff"/>
<rect class="g" x="1623" y="168" width="4" height="674.5"/>
<rect class="g" x="1865" y="168" width="4" height="674.5"/>
<rect class="g" x="2108" y="168" width="4" height="674.5"/>
<rect class="g" x="1382" y="728" width="970" height="4"/>
<rect class="g" x="1382" y="616" width="970" height="4"/>
<rect class="g" x="1382" y="503" width="970" height="4"/>
<rect class="g" x="1382" y="391" width="970" height="4"/>
<rect class="g" x="1382" y="278" width="970" height="4"/>
<rect class="a" x="1623" y="831" width="4" height="11.5"/>
<rect class="a" x="1623" y="168" width="4" height="11.5"/>
<rect class="a" x="1865" y="831" width="4" height="11.5"/>
<rect class="a" x="1865" y="168" width="4" height="11.5"/>
<rect class="a" x="2108" y="831" width="4" height="11.5"/>
<rect class="a" x="2108" y="168" width="4" height="11.5"/>
<rect class="a" x="1382" y="728" width="11.5" height="4"/>
<rect class="a" x="2340.5" y="728" width="11.5" height="4"/>
<rect class="a" x="1382" y="616" width="11.5" height="4"/>
<rect class="a" x="2340.5" y="616" width="11.5" height="4"/>
<rect class="a" x="1382" y="503" width="11.5" height="4"/>
<rect class="a" x="2340.5" y="503" width="11.5" height="4"/>
<rect class="a" x="1382" y="391" width="11.5" height="4"/>
<rect class="a" x="2340.5" y="391" width="11.5" height="4"/>
<rect class="a" x="1382" y="278" width="11.5" height="4"/>
<rect class="a" x="2340.5" y="278" width="11.5" height="4"/>
<rect class="a" x="1380" y="166" width="4" height="679"/>
<rect class="a" x="2350" y="166" width="4" height="679"/>
<rect class="a" x="1380" y="166" width="974" height="4"/>
<rect class="a" x="1380" y="840" width="974" height="5"/>
<g clip-path="url(#ci)">
<path class="cv" stroke="#0000ff" d="M1609.0 842.5L1613.6 761.6L1617.7 693.5L1621.6 634.5L1625.2 584.5L1628.9 539.9L1632.7 498.5L1636.6 462.7L1640.7 430.0L1645.6 397.2L1648.0 382.7L1650.7 368.2L1653.1 356.2L1655.8 344.3L1658.5 333.6L1661.1 324.1L1663.8 315.8L1666.7 308.0L1669.4 301.9L1672.3 296.2L1675.2 291.7L1678.3 287.8L1681.5 285.0L1683.2 283.8L1684.9 282.9L1686.6 282.2L1688.5 281.7L1690.2 281.5L1692.6 281.5L1694.8 281.8L1696.8 282.2L1700.9 283.7L1705.3 286.0L1710.1 289.4L1715.2 293.7L1720.8 299.0L1726.8 305.5L1733.6 313.1L1740.7 321.4L1748.2 330.6L1761.8 348.0L1791.6 387.5L1799.6 397.7L1806.6 406.3L1814.4 415.3L1821.7 423.1L1828.9 430.3L1836.4 437.1L1845.4 444.4L1854.6 451.3L1864.6 457.9L1874.3 463.6L1883.7 468.7L1893.9 473.5L1904.6 478.0L1915.0 481.8L1928.1 485.8L1941.9 489.3L1956.7 492.4L1973.2 495.2L1993.8 498.0L2016.9 500.5L2039.9 502.6L2064.4 504.3L2084.0 505.3L2105.4 506.1L2127.0 506.7L2150.7 507.1L2192.7 507.3L2296.0 507.1L2324.8 507.4L2352.2 507.8"/>
<path class="cv" stroke="#0000ff" stroke-dasharray="49 28.5" stroke-dashoffset="0" d="M1617.0 842.5L1623.0 772.8L1628.1 716.9L1632.7 669.2L1637.1 627.5L1641.2 591.7L1645.1 561.8L1649.0 535.9L1653.1 512.4L1655.5 500.2L1658.0 489.1L1660.4 478.9L1663.1 468.7L1665.7 459.5L1668.4 451.2L1671.1 443.7L1674.0 436.5L1676.9 430.2L1680.0 424.3L1683.2 419.3L1686.3 414.9L1689.7 411.0L1693.4 407.6L1696.8 405.2L1700.4 403.2L1703.8 402.0L1707.4 401.4L1710.8 401.3L1714.5 401.7L1718.3 402.7L1722.2 404.3L1726.4 406.4L1730.5 409.0L1736.3 413.3L1743.1 419.0L1779.2 452.6L1789.9 462.1L1799.3 470.0L1808.8 477.4L1818.0 484.0L1827.5 490.1L1836.9 495.5L1846.1 500.3L1855.8 504.8L1866.3 509.0L1876.0 512.4L1885.9 515.5L1896.6 518.3L1908.0 521.0L1920.4 523.4L1933.2 525.6L1945.6 527.3L1958.7 528.8L1971.5 530.0L1983.6 530.9L1998.2 531.6L2011.8 532.0L2030.0 532.2L2047.4 532.1L2070.7 531.5L2173.0 527.7L2303.5 524.2L2352.2 522.7"/>
<path class="cv" stroke="#ff0000" d="M1611.9 842.5L1616.3 766.3L1620.6 694.7L1625.0 627.8L1627.9 588.0L1631.5 546.0L1635.9 502.1L1640.3 463.9L1644.6 431.0L1647.1 414.9L1649.5 400.2L1651.9 386.8L1654.3 374.6L1656.8 363.7L1659.4 352.9L1662.1 343.3L1664.8 334.9L1667.7 326.9L1670.6 320.0L1673.7 313.6L1676.9 308.2L1680.0 303.7L1683.4 299.9L1686.8 297.1L1688.8 295.8L1690.5 295.0L1692.6 294.1L1694.6 293.6L1696.8 293.3L1698.5 293.3L1699.9 293.3L1702.3 293.6L1706.7 294.9L1711.1 296.9L1715.7 299.8L1720.5 303.6L1725.6 308.2L1729.7 312.4L1734.4 317.4L1746.0 331.1L1768.8 358.8L1800.8 398.6L1813.7 413.9L1821.7 422.9L1829.2 430.7L1836.2 437.5L1843.0 443.4L1850.8 449.4L1858.8 454.8L1866.8 459.7L1877.2 465.4L1887.1 470.2L1897.1 474.5L1907.7 478.7L1918.7 482.4L1932.5 486.5L1946.5 490.0L1961.6 493.1L1977.8 495.9L1996.5 498.5L2016.9 500.8L2037.7 502.6L2059.8 504.1L2079.7 505.1L2100.8 505.9L2125.0 506.6L2151.2 507.0L2197.5 507.3L2304.5 507.3L2352.2 507.7"/>
<path class="cv" stroke="#ff0000" stroke-dasharray="49 28.5" stroke-dashoffset="0" d="M1617.5 842.5L1622.3 782.2L1627.2 724.9L1631.8 674.3L1636.1 630.2L1640.5 590.0L1644.9 553.9L1649.2 522.1L1653.6 494.3L1658.2 468.9L1660.6 457.2L1663.1 446.4L1665.5 436.7L1667.9 427.9L1670.3 419.9L1673.0 412.2L1675.7 405.4L1678.3 399.6L1681.0 394.5L1683.7 390.3L1686.3 386.8L1689.2 383.8L1692.4 381.3L1695.6 379.6L1698.7 378.5L1702.6 377.9L1705.3 377.9L1707.4 378.1L1712.8 379.2L1717.6 380.7L1722.7 383.0L1728.0 385.9L1733.6 389.5L1738.0 392.7L1742.4 396.2L1752.1 404.7L1761.5 413.7L1787.5 439.6L1795.5 447.0L1803.7 454.2L1813.7 462.3L1823.6 469.7L1833.8 476.7L1844.0 482.9L1853.2 488.1L1862.4 492.7L1872.1 497.0L1881.6 500.9L1892.0 504.6L1902.4 507.8L1913.1 510.6L1924.5 513.3L1936.1 515.6L1948.2 517.6L1960.8 519.3L1973.0 520.7L1985.1 521.8L1998.2 522.6L2011.5 523.2L2027.5 523.7L2047.2 523.8L2071.9 523.4L2142.7 521.1L2171.6 520.4L2204.1 520.1L2296.5 519.9L2325.3 519.5L2352.2 518.6"/>
<path class="cv" stroke="#000000" d="M1613.1 842.5L1618.0 762.5L1622.1 698.7L1626.0 643.7L1629.8 594.2L1633.5 553.3L1637.4 515.4L1641.7 478.3L1646.3 444.1L1651.2 413.1L1653.6 399.4L1656.3 385.6L1658.9 373.1L1661.6 361.9L1664.3 351.8L1666.9 342.9L1669.6 335.0L1672.5 327.6L1675.4 321.3L1678.6 315.6L1681.5 311.3L1684.6 307.7L1688.0 304.8L1691.4 302.8L1693.6 301.9L1695.8 301.4L1698.0 301.1L1700.4 301.1L1704.8 301.7L1709.1 303.0L1714.0 305.2L1719.1 308.4L1724.4 312.4L1730.2 317.5L1736.5 323.6L1743.8 331.3L1753.8 342.2L1763.9 353.8L1779.7 372.6L1807.8 407.5L1820.0 421.6L1826.5 428.7L1832.8 435.0L1838.6 440.3L1844.7 445.3L1852.2 450.7L1860.2 455.7L1867.5 459.8L1879.4 465.7L1890.8 470.8L1902.2 475.5L1913.6 479.6L1925.4 483.5L1938.3 487.3L1952.1 490.7L1966.2 493.7L1980.7 496.3L1995.5 498.4L2011.0 500.2L2027.1 501.6L2045.2 502.8L2065.6 503.6L2089.4 504.3L2204.1 506.0L2244.6 506.4L2283.9 506.5L2319.5 506.4L2352.2 506.2"/>
<path class="cv" stroke="#000000" stroke-dasharray="49 28.5" stroke-dashoffset="0" d="M1617.9 842.5L1622.6 781.1L1627.4 721.3L1632.3 665.9L1636.9 617.3L1641.7 570.4L1646.3 529.9L1650.7 495.8L1654.8 468.2L1656.8 457.1L1658.7 447.2L1660.6 438.5L1662.8 430.0L1665.0 422.5L1667.7 414.3L1671.3 404.3L1674.7 395.5L1677.4 389.2L1680.0 383.6L1682.5 379.2L1685.1 375.1L1687.8 371.7L1690.7 368.7L1693.6 366.4L1696.8 364.7L1698.7 363.9L1700.6 363.4L1704.5 362.9L1708.6 363.0L1713.0 363.8L1717.4 365.2L1721.7 367.1L1726.4 369.7L1731.2 373.0L1734.8 375.8L1738.7 379.1L1747.0 386.9L1755.5 395.8L1772.4 414.4L1779.5 421.9L1788.2 430.6L1796.9 438.8L1807.6 447.9L1818.5 456.5L1829.7 464.4L1841.1 471.7L1851.5 477.7L1862.2 483.3L1873.8 488.7L1884.7 493.3L1896.3 497.6L1908.7 501.7L1921.3 505.4L1933.9 508.5L1945.8 511.0L1957.2 513.1L1968.6 514.8L1981.7 516.4L1994.8 517.7L2008.4 518.6L2022.7 519.3L2037.2 519.7L2056.9 519.8L2073.1 519.6L2133.8 518.2L2163.3 517.8L2260.3 517.5L2291.6 517.2L2323.1 516.6L2352.2 515.6"/>
</g>
<g class="tk" font-size="55" filter="url(#fb)">
<text transform="translate(1382.0 903.3) scale(1 1)" text-anchor="middle">0</text>
<text transform="translate(1625.0 903.3) scale(1 1)" text-anchor="middle">0.5</text>
<text transform="translate(1867.0 903.3) scale(1 1)" text-anchor="middle">1</text>
<text transform="translate(2110.0 903.3) scale(1 1)" text-anchor="middle">1.5</text>
<text transform="translate(2352.0 903.3) scale(1 1)" text-anchor="middle">2</text>
<text transform="translate(1367.5 856.7) scale(1 1)" text-anchor="end">2.97</text>
<text transform="translate(1367.5 744.2) scale(1 1)" text-anchor="end">2.98</text>
<text transform="translate(1367.5 632.2) scale(1 1)" text-anchor="end">2.99</text>
<text transform="translate(1367.5 519.2) scale(1 1)" text-anchor="end">3</text>
<text transform="translate(1367.5 407.2) scale(1 1)" text-anchor="end">3.01</text>
<text transform="translate(1367.5 294.2) scale(1 1)" text-anchor="end">3.02</text>
</g>
<g filter="url(#ft)">
<text class="lb" font-size="61.3" x="1865.5" y="986.3" text-anchor="middle">Time (s)</text>
<text class="lb" font-size="61.3" text-anchor="middle" transform="translate(1245.4 508.0) rotate(-90)">alpha (°)</text>
</g>
</g>
</svg>
</body></html>
